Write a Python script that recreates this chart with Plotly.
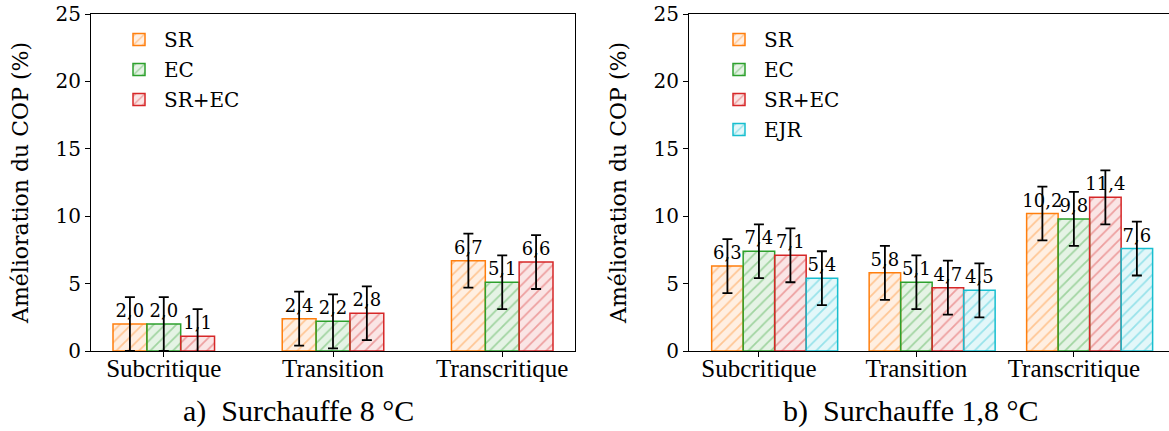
import plotly.graph_objects as go

categories = ["Subcritique", "Transition", "Transcritique"]

# Panel a) Surchauffe 8 °C
a_SR = [2.0, 2.4, 6.7]
a_EC = [2.0, 2.2, 5.1]
a_SREC = [1.1, 2.8, 6.6]

# Panel b) Surchauffe 1,8 °C
b_SR = [6.3, 5.8, 10.2]
b_EC = [7.4, 5.1, 9.8]
b_SREC = [7.1, 4.7, 11.4]
b_EJR = [5.4, 4.5, 7.6]

err = 2.0  # symmetric uncertainty on every bar

W, H = 1169, 431
COLORS = {"SR": (255, 127, 14), "EC": (44, 160, 44), "SR+EC": (214, 39, 40), "EJR": (23, 190, 207)}
SERIF = "DejaVu Serif"
CAPF = "Liberation Serif"


def rgba(c, a):
    return f"rgba({c[0]},{c[1]},{c[2]},{a})"


def fmt(v):
    return f"{v:.1f}".replace(".", ",")


fig = go.Figure()


def add_series(name, vals, offset, xa, ya, legend, grp):
    c = COLORS[name]
    fig.add_trace(go.Bar(
        x=categories, y=vals, name=name, xaxis=xa, yaxis=ya, legend=legend, legendgroup=grp,
        offset=offset, width=0.2,
        marker=dict(color=rgba(c, 0.12), line=dict(color=rgba(c, 1), width=1.5),
                    pattern=dict(shape="/", fgcolor=rgba(c, 0.75), size=8, solidity=0.22,
                                 fillmode="overlay")),
        error_y=dict(type="data", array=[err] * len(vals), color="black", thickness=1.8, width=5),
        text=[fmt(v) for v in vals], textposition="outside", constraintext="none",
        textfont=dict(family=SERIF, size=18, color="black"), cliponaxis=False,
    ))


add_series("SR", a_SR, -0.3, "x", "y", "legend", "a1")
add_series("EC", a_EC, -0.1, "x", "y", "legend", "a2")
add_series("SR+EC", a_SREC, 0.1, "x", "y", "legend", "a3")

add_series("SR", b_SR, -0.3, "x2", "y2", "legend2", "b1")
add_series("EC", b_EC, -0.1, "x2", "y2", "legend2", "b2")
add_series("SR+EC", b_SREC, 0.1, "x2", "y2", "legend2", "b3")
add_series("EJR", b_EJR, 0.3, "x2", "y2", "legend2", "b4")

ybot = 1 - 351 / H
ytop = 1 - 14 / H

axis_common = dict(showline=True, linecolor="black", linewidth=1, ticks="outside", ticklen=5,
                   tickcolor="black", showgrid=False, zeroline=False, automargin=False)

ytitle = dict(text="Amélioration du COP (%)", font=dict(family=SERIF, size=22), standoff=20)

fig.update_layout(
    width=W, height=H, margin=dict(l=0, r=0, t=0, b=0, autoexpand=False),
    plot_bgcolor="white", paper_bgcolor="white", barmode="overlay",
    font=dict(family=SERIF, color="black"),
    xaxis=dict(domain=[91 / W, 575 / W], anchor="y", mirror=True, type="category",
               range=[-0.43, 2.43], tickfont=dict(family=CAPF, size=25), ticklabelstandoff=-10,
               **axis_common),
    yaxis=dict(domain=[ybot, ytop], anchor="x", mirror=True, range=[0, 25], dtick=5,
               tickfont=dict(family=SERIF, size=20), title=ytitle, **axis_common),
    xaxis2=dict(domain=[689 / W, 1.0], anchor="y2", mirror=True, type="category",
                range=[-0.444, 2.604], tickfont=dict(family=CAPF, size=25), ticklabelstandoff=-10,
                **axis_common),
    yaxis2=dict(domain=[ybot, ytop], anchor="x2", mirror=False, range=[0, 25], dtick=5,
                tickfont=dict(family=SERIF, size=20), title=ytitle, **axis_common),
    legend=dict(x=114 / W, y=1 - 20 / H, xanchor="left", yanchor="top", bgcolor="rgba(0,0,0,0)",
                font=dict(family=SERIF, size=20), itemwidth=40, tracegroupgap=1),
    legend2=dict(x=714 / W, y=1 - 20 / H, xanchor="left", yanchor="top", bgcolor="rgba(0,0,0,0)",
                 font=dict(family=SERIF, size=20), itemwidth=40, tracegroupgap=1),
    showlegend=True,
)

fig.add_annotation(text="a)  Surchauffe 8 °C", x=298 / W, y=1 - 411 / H, xref="paper", yref="paper",
                   xanchor="center", yanchor="middle",
                   showarrow=False, font=dict(family=CAPF, size=30, color="black"))
fig.add_annotation(text="b)  Surchauffe 1,8 °C", x=911 / W, y=1 - 411 / H, xref="paper", yref="paper",
                   xanchor="center", yanchor="middle",
                   showarrow=False, font=dict(family=CAPF, size=30, color="black"))

fig.write_html("out.html", config={"displayModeBar": False},
               post_script="document.body.style.margin='0px';")
